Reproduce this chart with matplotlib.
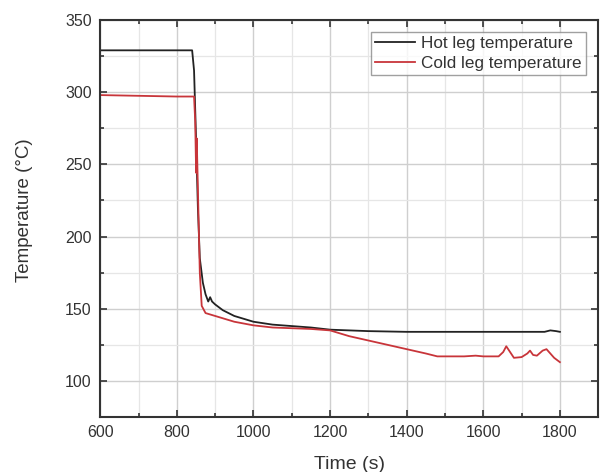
import matplotlib.pyplot as plt
from matplotlib.ticker import MultipleLocator

# valori
hot_t = [600, 700, 800, 840, 845, 850, 855, 860, 868, 875, 882, 887, 892, 900,
         920, 950, 1000, 1050, 1100, 1150, 1200, 1300, 1400, 1500, 1600, 1700,
         1760, 1775, 1790, 1800]
hot_T = [329, 329, 329, 329, 315, 270, 220, 185, 168, 160, 155, 158, 155, 153,
         149, 145, 141, 139, 138, 137, 135.5, 134.5, 134, 134, 134, 134,
         134, 135, 134.5, 134]

cold_t = [600, 700, 800, 845, 848, 850, 851, 852, 854, 857, 860, 865, 875, 900,
          950, 1000, 1050, 1100, 1150, 1200, 1250, 1300, 1350, 1400, 1450, 1480,
          1500, 1550, 1580, 1600, 1640, 1652, 1660, 1670, 1680, 1700, 1715, 1722,
          1730, 1740, 1755, 1765, 1775, 1785, 1795, 1800]
cold_T = [298, 297.5, 297, 297, 280, 250, 244, 268, 245, 210, 175, 152, 147, 145,
          141, 138.5, 137, 136.5, 136, 135, 131, 128, 125, 122, 119, 117,
          117, 117, 117.5, 117, 117, 120, 124, 120, 116, 116.5, 119, 121,
          118, 117.5, 121, 122, 119, 116, 114, 113]

plt.rcParams['font.family'] = ['Liberation Sans', 'DejaVu Sans']

fig = plt.figure(figsize=(6, 4.72), dpi=100)
ax = fig.add_axes([0.167, 0.1165, 0.83, 0.8411])

ax.plot(hot_t, hot_T, color='#222222', lw=1.3, label='Hot leg temperature')
ax.plot(cold_t, cold_T, color='#c8353a', lw=1.3, label='Cold leg temperature')

ax.set_xlim(600, 1900)
ax.set_ylim(75, 350)
ax.xaxis.set_major_locator(MultipleLocator(200))
ax.xaxis.set_minor_locator(MultipleLocator(100))
ax.yaxis.set_major_locator(MultipleLocator(50))
ax.yaxis.set_minor_locator(MultipleLocator(25))
ax.set_xticks([600, 800, 1000, 1200, 1400, 1600, 1800])
ax.set_yticks([100, 150, 200, 250, 300, 350])

ax.grid(which='major', color='#cfcfcf', lw=1.0)
ax.grid(which='minor', color='#e6e6e6', lw=0.9)
ax.set_axisbelow(True)

ax.tick_params(which='both', direction='in', top=True, right=True,
               labelsize=11.5, colors='#333333', width=1.2, pad=6)
ax.tick_params(which='major', length=5)
ax.tick_params(which='minor', length=3)
for s in ax.spines.values():
    s.set_linewidth(1.5)
    s.set_color('#333333')

ax.set_xlabel('Time (s)', fontsize=14, color='#333333')
ax.set_ylabel('Temperature (°C)', fontsize=13.5, color='#333333')
ax.xaxis.set_label_coords(0.5, -0.097)
ax.yaxis.set_label_coords(-0.135, 0.52)

leg = ax.legend(loc='upper right', fontsize=12.3, frameon=True, fancybox=False,
                borderaxespad=0.7, handlelength=2.3, labelspacing=0.25,
                borderpad=0.25, handletextpad=0.4)
leg.get_frame().set_edgecolor('#888888')
leg.get_frame().set_linewidth(1.0)
for t in leg.get_texts():
    t.set_color('#333333')

fig.savefig('out.png', dpi=100)
